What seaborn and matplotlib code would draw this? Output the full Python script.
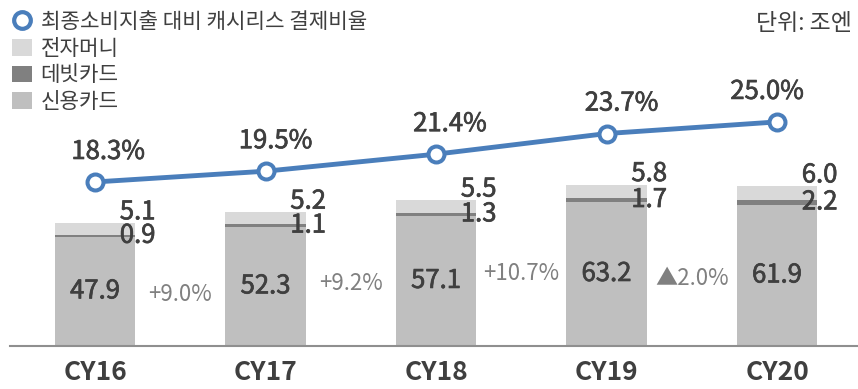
import numpy as np
import pandas as pd
import matplotlib
matplotlib.use("Agg")
import matplotlib.pyplot as plt
import matplotlib.patheffects as pe
from matplotlib.lines import Line2D
from matplotlib.patches import Patch
import seaborn as sns

# Cashless payments in Japan (trillion yen) and their share of final consumption
years = ["CY16", "CY17", "CY18", "CY19", "CY20"]
credit = [47.9, 52.3, 57.1, 63.2, 61.9]
debit = [0.9, 1.1, 1.3, 1.7, 2.2]
emoney = [5.1, 5.2, 5.5, 5.8, 6.0]
cashless_ratio = [18.3, 19.5, 21.4, 23.7, 25.0]
growth_labels = ["+9.0%", "+9.2%", "+10.7%", "▲2.0%"]

legend_labels = ["최종소비지출 대비 캐시리스 결제비율", "전자머니", "데빗카드", "신용카드"]
unit_label = "단위: 조엔"

# vertical placement of the growth notes between bars (primary-axis units)
growth_y = [22.4, 27.6, 31.6, 29.8]
# horizontal nudges (points) of the ratio labels
ratio_dx = [9.4, 7.2, 10.0, 10.8, -7.2]

sns.set_style("white")
plt.rcParams["font.family"] = ["Noto Sans CJK KR", "DejaVu Sans"]

C_CREDIT = "#bfbfbf"
C_DEBIT = "#808080"
C_EMONEY = "#d9d9d9"
C_LINE = "#4a7ebb"
C_TEXT = "#3f3f3f"
C_GROWTH = "#808080"
# a thin outline in the text colour gives the numbers a medium weight
NUM_STYLE = dict(fontsize=18.5, color=C_TEXT,
                 path_effects=[pe.withStroke(linewidth=0.5, foreground=C_TEXT)])

W, H = 858, 389
fig = plt.figure(figsize=(W / 100, H / 100), dpi=100)
ax = fig.add_axes([9.75 / W, 43 / H, 848.25 / W, 346 / H])

df = pd.DataFrame({"year": years, "credit": credit, "debit": debit,
                   "emoney": emoney, "ratio": cashless_ratio})
df["credit_debit"] = df["credit"] + df["debit"]
df["total"] = df["credit_debit"] + df["emoney"]

# stacked bars drawn as layered cumulative totals
for col, color in [("total", C_EMONEY), ("credit_debit", C_DEBIT), ("credit", C_CREDIT)]:
    sns.barplot(data=df, x="year", y=col, color=color, width=0.47, linewidth=0,
                saturation=1, errorbar=None, ax=ax)

ax.set_xlim(-0.5, 4.475)
ax.set_ylim(0, 151.8)
ax.set_xlabel("")
ax.set_ylabel("")
ax.set_yticks([])
for s in ["top", "left", "right"]:
    ax.spines[s].set_visible(False)
ax.spines["bottom"].set_color("#8f8f8f")
ax.spines["bottom"].set_linewidth(1.5)
ax.tick_params(axis="x", length=0, pad=9, labelsize=19, labelcolor=C_TEXT)
for lbl in ax.get_xticklabels():
    lbl.set_fontweight("bold")

# value labels
for i, row in df.iterrows():
    ax.text(i, row.credit / 2, f"{row.credit:.1f}", ha="center", va="center",
            **NUM_STYLE)
    ax.text(i + 0.25, row.credit + row.debit / 2, f"{row.debit:.1f}", ha="center",
            va="center", **NUM_STYLE)
    ax.annotate(f"{row.emoney:.1f}", (i + 0.25, row.total), xytext=(0, 7.8),
                textcoords="offset points", ha="center", va="center", **NUM_STYLE)

for i, (g, gy) in enumerate(zip(growth_labels, growth_y)):
    ax.text(i + 0.5, gy, g, ha="center", va="center", fontsize=16, color=C_GROWTH)

# cashless ratio line on the secondary axis
ax2 = ax.twinx()
sns.lineplot(x=np.arange(len(years)), y=df["ratio"], ax=ax2, color=C_LINE, lw=3.5,
             marker="o", ms=11.5, markerfacecolor="white", markeredgecolor=C_LINE,
             markeredgewidth=2.9)
ax2.set_ylim(0, 38.6)
ax2.set_yticks([])
ax2.set_ylabel("")
for s in ["top", "left", "right", "bottom"]:
    ax2.spines[s].set_visible(False)

for i, (r, dx) in enumerate(zip(cashless_ratio, ratio_dx)):
    ax2.annotate(f"{r:.1f}%", (i, r), xytext=(dx, 21.6), textcoords="offset points",
                 ha="center", va="center", **NUM_STYLE)

handles = [
    Line2D([], [], ls="none", marker="o", ms=12, markerfacecolor="white",
           markeredgecolor=C_LINE, markeredgewidth=3),
    Patch(facecolor=C_EMONEY, edgecolor="none"),
    Patch(facecolor=C_DEBIT, edgecolor="none"),
    Patch(facecolor=C_CREDIT, edgecolor="none"),
]
fig.legend(handles, legend_labels, loc="upper left", bbox_to_anchor=(12 / W, 1 - 11 / H),
           frameon=False, fontsize=15.3, labelcolor=C_TEXT, handlelength=0.95,
           handleheight=0.85, handletextpad=0.4, labelspacing=0.22, borderpad=0,
           borderaxespad=0)

fig.text(852 / W, 1 - 23 / H, unit_label, ha="right", va="center", fontsize=16.5,
         color=C_TEXT)

fig.savefig("out.png", dpi=100)
